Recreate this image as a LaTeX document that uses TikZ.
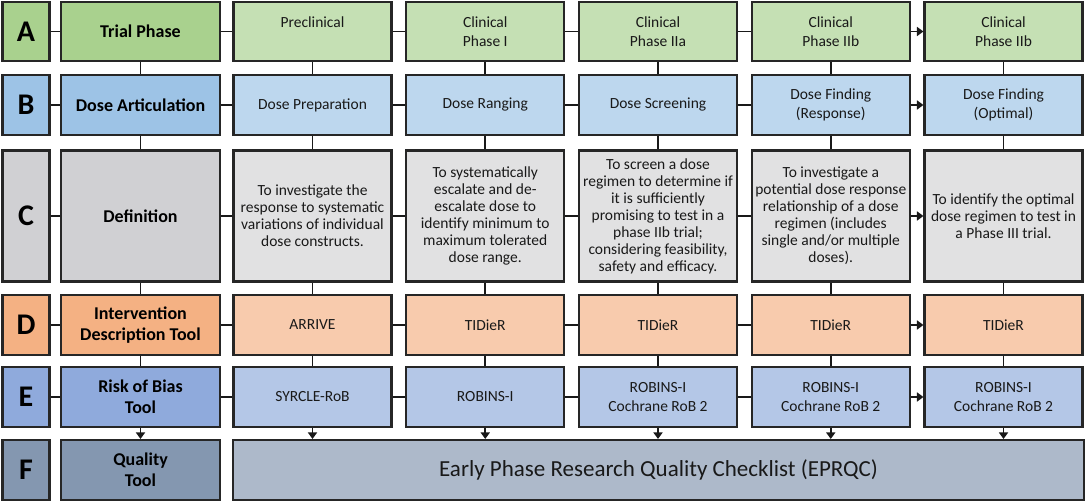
\documentclass[tikz,border=0pt]{standalone}
\usepackage{fontspec}
\setmainfont{Carlito}
\usepackage{tikz}
\usetikzlibrary{arrows.meta, positioning}
\definecolor{grnD}{HTML}{A9D18E}
\definecolor{grnL}{HTML}{C5E0B4}
\definecolor{bluD}{HTML}{9DC3E6}
\definecolor{bluL}{HTML}{BDD7EE}
\definecolor{gryD}{HTML}{D0D0D3}
\definecolor{gryL}{HTML}{E1E1E2}
\definecolor{orgD}{HTML}{F4B183}
\definecolor{orgL}{HTML}{F8CBAD}
\definecolor{rbD}{HTML}{8FAADC}
\definecolor{rbL}{HTML}{B4C7E7}
\definecolor{qtD}{HTML}{8497B0}
\definecolor{qtL}{HTML}{ADB9CA}
\tikzset{box/.style={draw=black!85, line width=2.1pt, align=center, inner sep=2pt},
	letter/.style={box, minimum width=47, font=\fontsize{30}{32}\selectfont\bfseries},
	header/.style={box, minimum width=159, font=\fontsize{18}{21}\selectfont\bfseries},
	cell/.style={box, minimum width=158, text=black!90, font=\fontsize{15.5}{19}\selectfont},
	link/.style={line width=1.8pt, draw=black!90},
	arr/.style={link, -{Triangle[length=6.5pt, width=9pt]}}}

\begin{document}
\begin{tikzpicture}[x=1pt, y=-1pt]
	\useasboundingbox (0,0) rectangle (1086,502);
	% letters and row headers
	\foreach \r/\y/\h/\cd/\lab in {A/31.5/59/grnD/{Trial Phase}, B/105/60/bluD/{Dose Articulation},
		C/216/131/gryD/Definition, D/325/60/orgD/{Intervention\\Description Tool},
		E/397/60/rbD/{Risk of Bias\\Tool}, F/470/60/qtD/{Quality\\Tool}}{
		\node[letter, fill=\cd, minimum height=\h] (\r-let) at (26,\y) {\r};
		\node[header, fill=\cd, minimum height=\h] (\r-0) at (140.5,\y) {\lab};
	}
	% phase columns
	\foreach \t [count=\i, evaluate={\x=312.5+172.75*(\i-1)}] in {{Preclinical\\\phantom{P}},
		{Clinical\\Phase I}, {Clinical\\Phase IIa}, {Clinical\\Phase IIb}, {Clinical\\Phase IIb}}
		\node[cell, fill=grnL, minimum height=59] (A-\i) at (\x,31.5) {\t};
	\foreach \t [count=\i, evaluate={\x=312.5+172.75*(\i-1)}] in {Dose Preparation,
		Dose Ranging, Dose Screening, {Dose Finding\\(Response)}, {Dose Finding\\(Optimal)}}
		\node[cell, fill=bluL, minimum height=60] (B-\i) at (\x,105) {\t};
	\foreach \t [count=\i, evaluate={\x=312.5+172.75*(\i-1)}] in {
		{To investigate the\\response to systematic\\variations of individual\\dose constructs.},
		{To systematically\\escalate and de-\\escalate dose to\\identify minimum to\\maximum tolerated\\dose range.},
		{To screen a dose\\regimen to determine if\\it is sufficiently\\promising to test in a\\phase IIb trial;\\considering feasibility,\\safety and efficacy.},
		{To investigate a\\potential dose response\\relationship of a dose\\regimen (includes\\single and/or multiple\\doses).},
		{To identify the optimal\\dose regimen to test in\\a Phase III trial.}}
		\node[cell, fill=gryL, minimum height=131, font=\fontsize{15.5}{17}\selectfont] (C-\i) at (\x,216) {\t};
	\foreach \t [count=\i, evaluate={\x=312.5+172.75*(\i-1)}] in {ARRIVE, TIDieR, TIDieR, TIDieR, TIDieR}
		\node[cell, fill=orgL, minimum height=60] (D-\i) at (\x,325) {\t};
	\foreach \t [count=\i, evaluate={\x=312.5+172.75*(\i-1)}] in {SYRCLE-RoB, ROBINS-I,
		{ROBINS-I\\Cochrane RoB 2}, {ROBINS-I\\Cochrane RoB 2}, {ROBINS-I\\Cochrane RoB 2}}
		\node[cell, fill=rbL, minimum height=60] (E-\i) at (\x,397) {\t};
	\node[cell, fill=qtL, minimum width=851, minimum height=60,
		font=\fontsize{23}{26}\selectfont] (F-1) at (658.5,470) {Early Phase Research Quality Checklist (EPRQC)};
	% connectors
	\foreach \r in {A,...,E}{
		\draw[link] (\r-let) -- (\r-0);
		\draw[link] (\r-0) -- (\r-1);
		\foreach \i/\j in {1/2,2/3,3/4}
			\draw[link] (\r-\i) -- (\r-\j);
		\draw[arr] (\r-4) -- (\r-5);
	}
	\foreach \a/\b in {A/B,B/C,C/D,D/E}
		\foreach \c in {0,...,5}
			\draw[link] (\a-\c) -- (\b-\c);
	\draw[arr] (E-0) -- (F-0);
	\foreach \c in {1,...,5}
		\draw[arr] (E-\c.south) -- (E-\c.south |- F-1.north);
\end{tikzpicture}
\end{document}
